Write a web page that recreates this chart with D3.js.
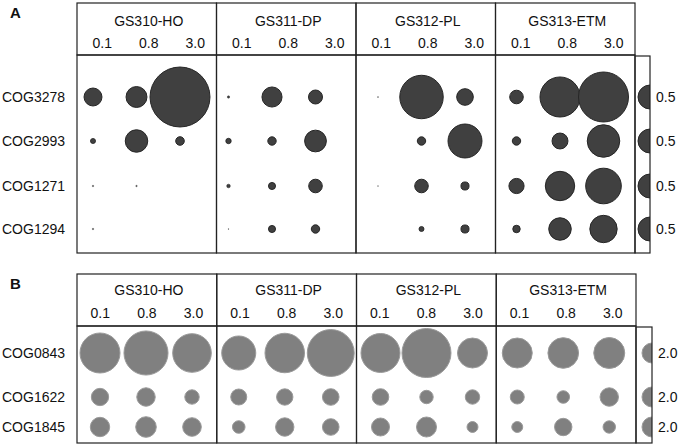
<!DOCTYPE html>
<html><head><meta charset="utf-8">
<script src="https://cdn.jsdelivr.net/npm/d3@7"></script>
<style>body{margin:0;background:#fff}svg{display:block}text{font-family:"Liberation Sans",Arial,sans-serif;fill:#111}</style>
</head><body><svg id="c" width="680" height="448"></svg>
<script>
const groups = ["GS310-HO","GS311-DP","GS312-PL","GS313-ETM"];
const sizes = ["0.1","0.8","3.0"];
const cogsA = ["COG3278","COG2993","COG1271","COG1294"];
const valuesA = [
  [0.28,0.38,3.12, 0.005,0.35,0.17, 0.0013,1.64,0.24, 0.16,1.39,2.17],
  [0.022,0.44,0.064, 0.025,0.061,0.41, 0,0.061,1.0, 0.061,0.22,0.92],
  [0.0022,0.0022,0, 0.011,0.043,0.16, 0.0009,0.16,0.056, 0.2,0.75,1.1],
  [0.0022,0,0, 0.0009,0.043,0.061, 0,0.022,0.056, 0.048,0.44,0.65]
];
const legendA = 0.5;
const cogsB = ["COG0843","COG1622","COG1845"];
const valuesB = [
  [8.0,9.7,7.45, 5.8,7.8,11.0, 7.6,12.0,4.5, 4.5,4.7,4.8],
  [1.5,1.7,1.04, 1.28,1.34,1.38, 1.38,0.9,1.04, 0.98,0.79,1.7],
  [1.88,2.12,1.73, 0.79,1.69,1.38, 1.62,2.0,0.6, 0.6,1.51,0.77]
];
const legendB = 2.0;

const svg = d3.select("#c");
const line = "#222";

function panel(cfg){
  const g = svg.append("g");
  const gx = d3.scaleBand().domain(groups).range([cfg.x0, cfg.x1]);
  const bw = gx.bandwidth();
  // header boxes
  groups.forEach(grp=>{
    g.append("rect").attr("x",gx(grp)).attr("y",cfg.hTop).attr("width",bw).attr("height",cfg.hBot-cfg.hTop)
      .attr("fill","none").attr("stroke",line).attr("stroke-width",1.2);
    g.append("rect").attr("x",gx(grp)).attr("y",cfg.hBot).attr("width",bw).attr("height",cfg.bot-cfg.hBot)
      .attr("fill","none").attr("stroke",line).attr("stroke-width",1.2);
    g.append("text").attr("x",gx(grp)+bw/2+2).attr("y",cfg.nameY).attr("text-anchor","middle")
      .attr("font-size",14).text(grp);
    const lx = d3.scalePoint().domain(sizes).range([gx(grp), gx(grp)+bw]).padding(0.5);
    sizes.forEach(s=>{
      g.append("text").attr("x",lx(s)+cfg.labOff).attr("y",cfg.numY).attr("text-anchor","middle")
        .attr("font-size",14).text(s);
    });
  });
  // legend box
  const lgx0 = cfg.x1, lgx1 = cfg.x1 + cfg.lgW;
  const clipId = "clip"+cfg.id;
  g.append("clipPath").attr("id",clipId).append("rect")
    .attr("x",lgx0).attr("y",cfg.hBot).attr("width",cfg.lgW).attr("height",cfg.bot-cfg.hBot);
  const r = d3.scaleSqrt().domain([0,cfg.legendVal]).range([0,cfg.legendR]);
  const y = d3.scaleOrdinal().domain(cfg.rows).range(cfg.rowY);
  // circles
  cfg.rows.forEach((row,i)=>{
    g.append("text").attr("x",2).attr("y",y(row)+5).attr("font-size",14).text(row);
    groups.forEach((grp,j)=>{
      const cx = d3.scalePoint().domain(sizes)
        .range([gx(grp)+cfg.cOff[j], gx(grp)+cfg.cOff[j]+cfg.cSpan]);
      sizes.forEach((s,k)=>{
        const v = cfg.values[i][j*3+k];
        if(v<=0) return;
        const rr = r(v);
        g.append("circle").attr("cx",cx(s)).attr("cy",y(row)).attr("r",rr)
          .attr("fill",cfg.fill).attr("stroke",cfg.stroke).attr("stroke-width",Math.min(1,rr/3));
      });
    });
    g.append("circle").attr("clip-path",`url(#${clipId})`).attr("cx",lgx1).attr("cy",y(row))
      .attr("r",r(cfg.legendVal)).attr("fill",cfg.fill).attr("stroke",cfg.stroke).attr("stroke-width",1);
    g.append("text").attr("x",lgx1+6).attr("y",y(row)+5).attr("font-size",14).text(d3.format(".1f")(cfg.legendVal));
  });
  g.append("rect").attr("x",lgx0).attr("y",cfg.hBot+1).attr("width",cfg.lgW).attr("height",cfg.bot-cfg.hBot-1)
    .attr("fill","none").attr("stroke",line).attr("stroke-width",1.2);
  g.append("text").attr("x",10).attr("y",cfg.hTop+15).attr("font-size",15).attr("font-weight","bold").text(cfg.id);
}

panel({id:"A", x0:77, x1:635, hTop:3, hBot:55, bot:253, nameY:26, numY:48, labOff:2,
  lgW:15, rows:cogsA, rowY:[97,141,186,229], values:valuesA, legendVal:legendA, legendR:12,
  cOff:[16,12,22,21], cSpan:87, fill:"#404040", stroke:"#262626"});
panel({id:"B", x0:77, x1:636, hTop:274, hBot:326, bot:443, nameY:295, numY:318, labOff:0,
  lgW:16, rows:cogsB, rowY:[353,397,427], values:valuesB, legendVal:legendB, legendR:10,
  cOff:[23,22,24,21], cSpan:92, fill:"#808080", stroke:"#9a9a9a"});
</script></body></html>
